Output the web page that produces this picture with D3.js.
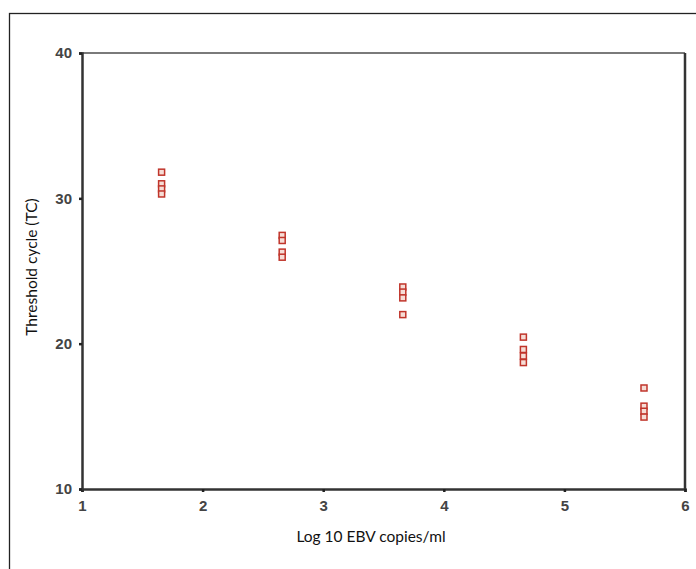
<!DOCTYPE html>
<html>
<head>
<meta charset="utf-8">
<script src="https://cdn.jsdelivr.net/npm/d3@7"></script>
<style>
	body { margin: 0; background: #fff; }
	.tick text { font-family: Arial, "Liberation Sans", sans-serif; font-weight: bold; font-size: 15px; fill: #444; }
	.title { font-family: Lato, "Open Sans", sans-serif; font-size: 15.5px; fill: #111; }
</style>
</head>
<body>
<div id="chart"></div>
<script>
// data
const xGroups = [1.66, 2.66, 3.66, 4.66, 5.66];
const tcValues = [
	[31.8, 31.0, 30.65, 30.3],
	[27.45, 27.1, 26.3, 25.95],
	[23.9, 23.55, 23.15, 22.0],
	[20.45, 19.6, 19.15, 18.7],
	[16.95, 15.7, 15.35, 14.95]
];
const xTicks = [1, 2, 3, 4, 5, 6];
const yTicks = [10, 20, 30, 40];

const width = 696;
const height = 569;
const margin = { top: 53, right: 11, bottom: 80, left: 82 };

const points = [];
xGroups.forEach((x, i) => {
	tcValues[i].forEach((y) => points.push({ x: x, y: y }));
});

const svg = d3.select("#chart")
	.append("svg")
	.attr("width", width)
	.attr("height", height);

// outer frame (runs off the right and bottom edges)
svg.append("rect")
	.attr("x", 9.5)
	.attr("y", 13.5)
	.attr("width", width)
	.attr("height", height)
	.attr("fill", "none")
	.attr("stroke", "#222")
	.attr("stroke-width", 1.3);

const x = d3.scaleLinear()
	.domain([1, 6])
	.range([margin.left, width - margin.right]);

const y = d3.scaleLinear()
	.domain([10, 40])
	.range([height - margin.bottom, margin.top]);

// box around plot
svg.append("line")
	.attr("x1", x(1)).attr("x2", x(6))
	.attr("y1", y(40)).attr("y2", y(40))
	.attr("stroke", "#7a7a7a")
	.attr("stroke-width", 2);
svg.append("line")
	.attr("x1", x(6)).attr("x2", x(6))
	.attr("y1", y(40)).attr("y2", y(10))
	.attr("stroke", "#333")
	.attr("stroke-width", 2.5);

const xAxis = svg.append("g")
	.attr("transform", "translate(0," + y(10) + ")")
	.call(d3.axisBottom(x).tickValues(xTicks).tickFormat(d3.format("d")).tickSize(3).tickPadding(8));

const yAxis = svg.append("g")
	.attr("transform", "translate(" + x(1) + ",0)")
	.call(d3.axisLeft(y).tickValues(yTicks).tickFormat(d3.format("d")).tickSize(3).tickPadding(7));

[xAxis, yAxis].forEach((g) => {
	g.select(".domain").attr("stroke", "#333").attr("stroke-width", 2.5);
	g.selectAll(".tick line").attr("stroke", "#222").attr("stroke-width", 2.5);
});

// markers
const size = 6;
svg.append("g")
	.selectAll("rect")
	.data(points)
	.enter()
	.append("rect")
	.attr("x", (d) => x(d.x) - size / 2)
	.attr("y", (d) => y(d.y) - size / 2)
	.attr("width", size)
	.attr("height", size)
	.attr("fill", "#f6ddd6")
	.attr("stroke", "#c0352b")
	.attr("stroke-width", 1.5);

// axis titles
svg.append("text")
	.attr("class", "title")
	.attr("x", 371)
	.attr("y", 542)
	.attr("text-anchor", "middle")
	.text("Log 10 EBV copies/ml");

svg.append("text")
	.attr("class", "title")
	.attr("transform", "translate(37," + 267 + ") rotate(-90)")
	.attr("text-anchor", "middle")
	.text("Threshold cycle (TC)");
</script>
</body>
</html>
